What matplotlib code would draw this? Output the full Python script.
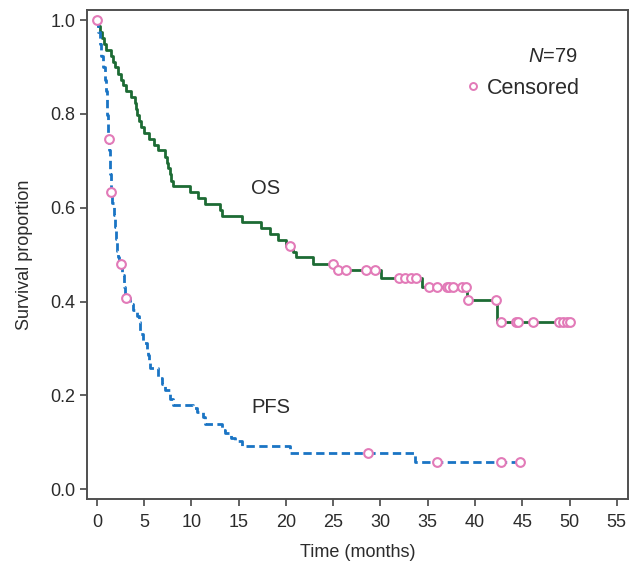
import numpy as np
import matplotlib
matplotlib.use('Agg')
import matplotlib.pyplot as plt
from matplotlib.lines import Line2D

# OS: step times / survival
os_time = [0, 0.15, 0.35, 0.55, 0.75, 0.95,
           1.45, 1.7, 1.95, 2.2, 2.5, 2.8, 3.1, 3.6, 4.0, 4.1, 4.2, 4.5, 4.7, 5.0,
           5.5, 6.0, 6.5, 7.2, 7.45, 7.55, 7.7, 7.85, 8.0,
           9.8, 10.7, 11.4, 13.0, 13.2, 15.3, 17.4, 18.3, 19.2, 20.0,
           20.7, 21.1, 22.9, 25.3, 30.1, 34.4, 39.2, 42.3]
os_surv = [1.0, 0.987, 0.975, 0.962, 0.949, 0.937,
           0.924, 0.911, 0.899, 0.886, 0.873, 0.861, 0.848, 0.835, 0.823, 0.810, 0.797, 0.785, 0.772, 0.759,
           0.747, 0.734, 0.722, 0.709, 0.696, 0.684, 0.671, 0.658, 0.646,
           0.633, 0.620, 0.608, 0.595, 0.582, 0.570, 0.557, 0.544, 0.532, 0.519,
           0.506, 0.494, 0.481, 0.468, 0.450, 0.431, 0.403, 0.357]
os_censor = [20.4, 25.0, 25.5, 26.4, 28.5, 29.4, 32.0, 32.6, 33.2, 33.8,
             35.1, 36.0, 37.0, 37.2, 37.7, 38.6, 39.0, 39.3, 42.2,
             42.8, 44.3, 44.5, 46.1, 48.9, 49.3, 49.7, 50.1]

# PFS
pfs_time = [0, 0.15, 0.3, 0.45, 0.6, 0.8, 0.95, 1.05, 1.1, 1.15, 1.2,
            1.3, 1.35, 1.4, 1.45, 1.6, 1.8, 1.9, 2.0, 2.1, 2.2, 2.35, 2.7, 2.85, 3.0,
            3.5, 3.8, 4.2, 4.5, 4.55, 4.6, 4.9, 5.25, 5.4, 5.5, 5.6, 6.5, 6.85, 7.2, 7.7, 8.05,
            10.2, 10.6, 11.2, 11.4, 13.2, 13.5, 14.2, 14.6, 15.3, 20.4, 33.6]
pfs_surv = [1.0, 0.975, 0.949, 0.924, 0.899, 0.873, 0.848, 0.823, 0.797, 0.772, 0.747,
            0.722, 0.696, 0.671, 0.634, 0.609, 0.584, 0.558, 0.533, 0.507, 0.494, 0.481, 0.456, 0.430, 0.407,
            0.394, 0.382, 0.370, 0.357, 0.344, 0.331, 0.311, 0.299, 0.286, 0.273, 0.258, 0.237, 0.224, 0.211, 0.193, 0.180,
            0.172, 0.165, 0.154, 0.138, 0.126, 0.119, 0.110, 0.102, 0.092, 0.077, 0.058]
pfs_censor = [0.0, 1.27, 1.5, 2.5, 3.07, 28.7, 36.0, 42.8, 44.8]

os_color = '#1d6b34'
pfs_color = '#1a74c4'
cens_color = '#e27ab8'
txt_color = '#2b2b2b'


def level_at(times, surv, t):
    i = np.searchsorted(times, t, side='right') - 1
    return np.array(surv)[i]


plt.rcParams['font.family'] = ['Liberation Sans', 'DejaVu Sans']
plt.rcParams['mathtext.fontset'] = 'custom'
plt.rcParams['mathtext.rm'] = 'Liberation Sans'
plt.rcParams['mathtext.it'] = 'Liberation Sans:italic'

fig = plt.figure(figsize=(6.3, 5.69), dpi=100)
ax = fig.add_axes([0.138, 0.123, 0.859, 0.859])

# extend steps to last censor time
ot = list(os_time) + [max(os_censor)]
osv = list(os_surv) + [os_surv[-1]]
pt = list(pfs_time) + [max(pfs_censor)]
pv = list(pfs_surv) + [pfs_surv[-1]]

ax.step(ot, osv, where='post', color=os_color, lw=2.0)
ax.step(pt, pv, where='post', color=pfs_color, lw=2.0, linestyle=(0, (3, 1.6)))

mk = dict(marker='o', ms=6.3, mfc='white', mec=cens_color, mew=1.5, ls='none', zorder=5)
ax.plot(os_censor, [level_at(os_time, os_surv, t) for t in os_censor], **mk)
ax.plot(pfs_censor, [level_at(pfs_time, pfs_surv, t) for t in pfs_censor], **mk)

ax.text(16.3, 0.64, 'OS', fontsize=14.5, color=txt_color, ha='left', va='center')
ax.text(16.3, 0.175, 'PFS', fontsize=14.5, color=txt_color, ha='left', va='center')

ax.text(0.907, 0.905, r'$N$=79', transform=ax.transAxes, fontsize=14.5,
        color=txt_color, ha='right', va='center')
h = Line2D([], [], marker='o', ms=5, mfc='white', mec=cens_color, mew=1.4, ls='none')
leg = ax.legend([h], ['Censored'], loc='center right', bbox_to_anchor=(0.91, 0.84),
                frameon=False, fontsize=15.5, handlelength=0.6, handletextpad=0.3,
                borderpad=0, borderaxespad=0)
for t in leg.get_texts():
    t.set_color(txt_color)

ax.set_xlim(-1.06, 56.2)
ax.set_ylim(-0.021, 1.021)
ax.set_xticks(np.arange(0, 56, 5))
ax.set_yticks(np.arange(0, 1.01, 0.2))
ax.set_yticklabels(['0.0', '0.2', '0.4', '0.6', '0.8', '1.0'])
ax.tick_params(labelsize=13, colors='#555555', labelcolor=txt_color, length=5, width=1.3)
ax.tick_params(axis='x', pad=6)
for s in ax.spines.values():
    s.set_color('#505050')
    s.set_linewidth(1.4)

ax.set_xlabel('Time (months)', fontsize=13, color=txt_color, labelpad=9)
ax.set_ylabel('Survival proportion', fontsize=13, color=txt_color, labelpad=12)

plt.savefig('out.png', dpi=100)
